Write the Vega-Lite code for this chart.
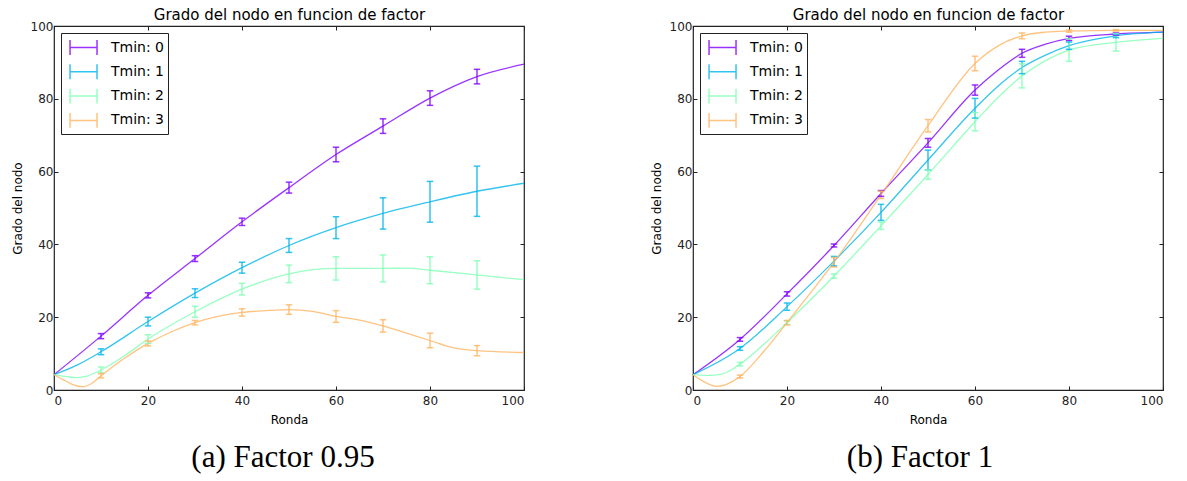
{
  "$schema": "https://vega.github.io/schema/vega-lite/v6.json",
  "padding": {"left": 10, "top": 6, "right": 5, "bottom": 2},
  "background": "white",
  "datasets": {
    "la": [
      {"x": 0, "y": 4.2, "s": "Tmin: 0"}, {"x": 10, "y": 14.8, "s": "Tmin: 0"}, {"x": 20, "y": 26.0, "s": "Tmin: 0"}, {"x": 30, "y": 36.1, "s": "Tmin: 0"}, {"x": 40, "y": 46.2, "s": "Tmin: 0"}, {"x": 50, "y": 55.6, "s": "Tmin: 0"}, {"x": 60, "y": 64.7, "s": "Tmin: 0"}, {"x": 70, "y": 72.5, "s": "Tmin: 0"}, {"x": 80, "y": 80.2, "s": "Tmin: 0"}, {"x": 90, "y": 86.1, "s": "Tmin: 0"}, {"x": 100, "y": 89.5, "s": "Tmin: 0"},
      {"x": 0, "y": 4.2, "s": "Tmin: 1"}, {"x": 5, "y": 6.9, "s": "Tmin: 1"}, {"x": 10, "y": 10.5, "s": "Tmin: 1"}, {"x": 20, "y": 18.8, "s": "Tmin: 1"}, {"x": 30, "y": 26.6, "s": "Tmin: 1"}, {"x": 40, "y": 33.6, "s": "Tmin: 1"}, {"x": 50, "y": 39.7, "s": "Tmin: 1"}, {"x": 60, "y": 44.6, "s": "Tmin: 1"}, {"x": 70, "y": 48.5, "s": "Tmin: 1"}, {"x": 80, "y": 51.7, "s": "Tmin: 1"}, {"x": 90, "y": 54.6, "s": "Tmin: 1"}, {"x": 100, "y": 56.8, "s": "Tmin: 1"},
      {"x": 0, "y": 4.2, "s": "Tmin: 2"}, {"x": 3, "y": 3.6, "s": "Tmin: 2"}, {"x": 5, "y": 3.4, "s": "Tmin: 2"}, {"x": 7, "y": 3.8, "s": "Tmin: 2"}, {"x": 10, "y": 5.5, "s": "Tmin: 2"}, {"x": 15, "y": 9.4, "s": "Tmin: 2"}, {"x": 20, "y": 14.0, "s": "Tmin: 2"}, {"x": 30, "y": 21.5, "s": "Tmin: 2"}, {"x": 40, "y": 27.7, "s": "Tmin: 2"}, {"x": 50, "y": 31.9, "s": "Tmin: 2"}, {"x": 60, "y": 33.4, "s": "Tmin: 2"}, {"x": 70, "y": 33.4, "s": "Tmin: 2"}, {"x": 75, "y": 33.5, "s": "Tmin: 2"}, {"x": 80, "y": 32.9, "s": "Tmin: 2"}, {"x": 90, "y": 31.6, "s": "Tmin: 2"}, {"x": 100, "y": 30.3, "s": "Tmin: 2"},
      {"x": 0, "y": 4.2, "s": "Tmin: 3"}, {"x": 2, "y": 2.8, "s": "Tmin: 3"}, {"x": 4, "y": 1.5, "s": "Tmin: 3"}, {"x": 6, "y": 0.9, "s": "Tmin: 3"}, {"x": 8, "y": 1.8, "s": "Tmin: 3"}, {"x": 10, "y": 3.9, "s": "Tmin: 3"}, {"x": 15, "y": 8.7, "s": "Tmin: 3"}, {"x": 20, "y": 12.8, "s": "Tmin: 3"}, {"x": 25, "y": 16.0, "s": "Tmin: 3"}, {"x": 30, "y": 18.5, "s": "Tmin: 3"}, {"x": 40, "y": 21.3, "s": "Tmin: 3"}, {"x": 45, "y": 21.8, "s": "Tmin: 3"}, {"x": 50, "y": 22.1, "s": "Tmin: 3"}, {"x": 55, "y": 21.6, "s": "Tmin: 3"}, {"x": 60, "y": 20.2, "s": "Tmin: 3"}, {"x": 65, "y": 19.2, "s": "Tmin: 3"}, {"x": 70, "y": 17.6, "s": "Tmin: 3"}, {"x": 75, "y": 15.6, "s": "Tmin: 3"}, {"x": 80, "y": 13.6, "s": "Tmin: 3"}, {"x": 85, "y": 11.6, "s": "Tmin: 3"}, {"x": 90, "y": 10.8, "s": "Tmin: 3"}, {"x": 100, "y": 10.3, "s": "Tmin: 3"}
    ],
    "ea": [
      {"x": 10, "lo": 14.1, "hi": 15.5, "s": "Tmin: 0"}, {"x": 20, "lo": 25.3, "hi": 26.7, "s": "Tmin: 0"}, {"x": 30, "lo": 35.3, "hi": 36.9, "s": "Tmin: 0"}, {"x": 40, "lo": 45.2, "hi": 47.2, "s": "Tmin: 0"}, {"x": 50, "lo": 54.1, "hi": 57.1, "s": "Tmin: 0"}, {"x": 60, "lo": 62.7, "hi": 66.7, "s": "Tmin: 0"}, {"x": 70, "lo": 70.5, "hi": 74.5, "s": "Tmin: 0"}, {"x": 80, "lo": 78.2, "hi": 82.2, "s": "Tmin: 0"}, {"x": 90, "lo": 84.1, "hi": 88.1, "s": "Tmin: 0"},
      {"x": 10, "lo": 9.7, "hi": 11.3, "s": "Tmin: 1"}, {"x": 20, "lo": 17.6, "hi": 20.0, "s": "Tmin: 1"}, {"x": 30, "lo": 25.4, "hi": 27.8, "s": "Tmin: 1"}, {"x": 40, "lo": 32.1, "hi": 35.1, "s": "Tmin: 1"}, {"x": 50, "lo": 37.8, "hi": 41.6, "s": "Tmin: 1"}, {"x": 60, "lo": 41.6, "hi": 47.6, "s": "Tmin: 1"}, {"x": 70, "lo": 44.2, "hi": 52.8, "s": "Tmin: 1"}, {"x": 80, "lo": 46.1, "hi": 57.3, "s": "Tmin: 1"}, {"x": 90, "lo": 47.7, "hi": 61.5, "s": "Tmin: 1"},
      {"x": 10, "lo": 4.7, "hi": 6.3, "s": "Tmin: 2"}, {"x": 20, "lo": 12.8, "hi": 15.2, "s": "Tmin: 2"}, {"x": 30, "lo": 20.0, "hi": 23.0, "s": "Tmin: 2"}, {"x": 40, "lo": 26.1, "hi": 29.3, "s": "Tmin: 2"}, {"x": 50, "lo": 29.5, "hi": 34.3, "s": "Tmin: 2"}, {"x": 60, "lo": 30.2, "hi": 36.6, "s": "Tmin: 2"}, {"x": 70, "lo": 29.7, "hi": 37.1, "s": "Tmin: 2"}, {"x": 80, "lo": 29.2, "hi": 36.6, "s": "Tmin: 2"}, {"x": 90, "lo": 27.7, "hi": 35.5, "s": "Tmin: 2"},
      {"x": 10, "lo": 3.3, "hi": 4.5, "s": "Tmin: 3"}, {"x": 20, "lo": 12.1, "hi": 13.5, "s": "Tmin: 3"}, {"x": 30, "lo": 17.9, "hi": 19.1, "s": "Tmin: 3"}, {"x": 40, "lo": 20.3, "hi": 22.3, "s": "Tmin: 3"}, {"x": 50, "lo": 20.8, "hi": 23.4, "s": "Tmin: 3"}, {"x": 60, "lo": 18.6, "hi": 21.8, "s": "Tmin: 3"}, {"x": 70, "lo": 15.9, "hi": 19.3, "s": "Tmin: 3"}, {"x": 80, "lo": 11.6, "hi": 15.6, "s": "Tmin: 3"}, {"x": 90, "lo": 9.4, "hi": 12.2, "s": "Tmin: 3"}
    ],
    "lb": [
      {"x": 0, "y": 4.2, "s": "Tmin: 0"}, {"x": 10, "y": 13.9, "s": "Tmin: 0"}, {"x": 20, "y": 26.4, "s": "Tmin: 0"}, {"x": 30, "y": 39.7, "s": "Tmin: 0"}, {"x": 40, "y": 54.0, "s": "Tmin: 0"}, {"x": 50, "y": 67.9, "s": "Tmin: 0"}, {"x": 60, "y": 82.4, "s": "Tmin: 0"}, {"x": 65, "y": 88.0, "s": "Tmin: 0"}, {"x": 70, "y": 92.5, "s": "Tmin: 0"}, {"x": 75, "y": 95.0, "s": "Tmin: 0"}, {"x": 80, "y": 96.6, "s": "Tmin: 0"}, {"x": 90, "y": 97.8, "s": "Tmin: 0"}, {"x": 100, "y": 98.3, "s": "Tmin: 0"},
      {"x": 0, "y": 4.2, "s": "Tmin: 1"}, {"x": 10, "y": 11.4, "s": "Tmin: 1"}, {"x": 20, "y": 22.9, "s": "Tmin: 1"}, {"x": 30, "y": 35.4, "s": "Tmin: 1"}, {"x": 40, "y": 48.8, "s": "Tmin: 1"}, {"x": 50, "y": 63.2, "s": "Tmin: 1"}, {"x": 60, "y": 77.4, "s": "Tmin: 1"}, {"x": 65, "y": 83.6, "s": "Tmin: 1"}, {"x": 70, "y": 88.6, "s": "Tmin: 1"}, {"x": 75, "y": 92.0, "s": "Tmin: 1"}, {"x": 80, "y": 94.6, "s": "Tmin: 1"}, {"x": 90, "y": 97.3, "s": "Tmin: 1"}, {"x": 100, "y": 98.3, "s": "Tmin: 1"},
      {"x": 0, "y": 4.2, "s": "Tmin: 2"}, {"x": 3, "y": 4.0, "s": "Tmin: 2"}, {"x": 6, "y": 4.3, "s": "Tmin: 2"}, {"x": 10, "y": 7.1, "s": "Tmin: 2"}, {"x": 15, "y": 12.5, "s": "Tmin: 2"}, {"x": 20, "y": 18.5, "s": "Tmin: 2"}, {"x": 30, "y": 31.3, "s": "Tmin: 2"}, {"x": 40, "y": 45.1, "s": "Tmin: 2"}, {"x": 50, "y": 59.2, "s": "Tmin: 2"}, {"x": 60, "y": 73.7, "s": "Tmin: 2"}, {"x": 65, "y": 80.5, "s": "Tmin: 2"}, {"x": 70, "y": 86.3, "s": "Tmin: 2"}, {"x": 75, "y": 90.5, "s": "Tmin: 2"}, {"x": 80, "y": 93.4, "s": "Tmin: 2"}, {"x": 90, "y": 95.5, "s": "Tmin: 2"}, {"x": 100, "y": 96.6, "s": "Tmin: 2"},
      {"x": 0, "y": 4.2, "s": "Tmin: 3"}, {"x": 2, "y": 2.5, "s": "Tmin: 3"}, {"x": 5, "y": 1.0, "s": "Tmin: 3"}, {"x": 7, "y": 1.5, "s": "Tmin: 3"}, {"x": 10, "y": 3.7, "s": "Tmin: 3"}, {"x": 15, "y": 10.5, "s": "Tmin: 3"}, {"x": 20, "y": 18.5, "s": "Tmin: 3"}, {"x": 30, "y": 35.1, "s": "Tmin: 3"}, {"x": 40, "y": 53.6, "s": "Tmin: 3"}, {"x": 50, "y": 72.6, "s": "Tmin: 3"}, {"x": 60, "y": 89.7, "s": "Tmin: 3"}, {"x": 65, "y": 94.6, "s": "Tmin: 3"}, {"x": 70, "y": 97.3, "s": "Tmin: 3"}, {"x": 75, "y": 98.3, "s": "Tmin: 3"}, {"x": 80, "y": 98.6, "s": "Tmin: 3"}, {"x": 90, "y": 98.8, "s": "Tmin: 3"}, {"x": 100, "y": 98.8, "s": "Tmin: 3"}
    ],
    "eb": [
      {"x": 10, "lo": 13.4, "hi": 14.4, "s": "Tmin: 0"}, {"x": 20, "lo": 25.8, "hi": 27.0, "s": "Tmin: 0"}, {"x": 30, "lo": 39.3, "hi": 40.1, "s": "Tmin: 0"}, {"x": 40, "lo": 53.2, "hi": 54.8, "s": "Tmin: 0"}, {"x": 50, "lo": 66.7, "hi": 69.1, "s": "Tmin: 0"}, {"x": 60, "lo": 81.0, "hi": 83.8, "s": "Tmin: 0"}, {"x": 70, "lo": 91.4, "hi": 93.6, "s": "Tmin: 0"}, {"x": 80, "lo": 96.0, "hi": 97.2, "s": "Tmin: 0"}, {"x": 90, "lo": 97.5, "hi": 98.1, "s": "Tmin: 0"},
      {"x": 10, "lo": 10.9, "hi": 11.9, "s": "Tmin: 1"}, {"x": 20, "lo": 21.9, "hi": 23.9, "s": "Tmin: 1"}, {"x": 30, "lo": 34.1, "hi": 36.7, "s": "Tmin: 1"}, {"x": 40, "lo": 46.6, "hi": 51.0, "s": "Tmin: 1"}, {"x": 50, "lo": 60.5, "hi": 65.9, "s": "Tmin: 1"}, {"x": 60, "lo": 74.7, "hi": 80.1, "s": "Tmin: 1"}, {"x": 70, "lo": 86.9, "hi": 90.3, "s": "Tmin: 1"}, {"x": 80, "lo": 93.6, "hi": 95.6, "s": "Tmin: 1"}, {"x": 90, "lo": 96.8, "hi": 97.8, "s": "Tmin: 1"},
      {"x": 10, "lo": 6.6, "hi": 7.6, "s": "Tmin: 2"}, {"x": 20, "lo": 18.0, "hi": 19.0, "s": "Tmin: 2"}, {"x": 30, "lo": 30.7, "hi": 31.9, "s": "Tmin: 2"}, {"x": 40, "lo": 44.1, "hi": 46.1, "s": "Tmin: 2"}, {"x": 50, "lo": 57.9, "hi": 60.5, "s": "Tmin: 2"}, {"x": 60, "lo": 71.2, "hi": 76.2, "s": "Tmin: 2"}, {"x": 70, "lo": 83.0, "hi": 89.6, "s": "Tmin: 2"}, {"x": 80, "lo": 90.3, "hi": 96.5, "s": "Tmin: 2"}, {"x": 90, "lo": 93.1, "hi": 97.9, "s": "Tmin: 2"},
      {"x": 10, "lo": 3.3, "hi": 4.1, "s": "Tmin: 3"}, {"x": 20, "lo": 17.9, "hi": 19.1, "s": "Tmin: 3"}, {"x": 30, "lo": 33.8, "hi": 36.4, "s": "Tmin: 3"}, {"x": 40, "lo": 52.6, "hi": 54.6, "s": "Tmin: 3"}, {"x": 50, "lo": 70.9, "hi": 74.3, "s": "Tmin: 3"}, {"x": 60, "lo": 87.7, "hi": 91.7, "s": "Tmin: 3"}, {"x": 70, "lo": 96.5, "hi": 98.1, "s": "Tmin: 3"}, {"x": 80, "lo": 98.3, "hi": 98.9, "s": "Tmin: 3"}, {"x": 90, "lo": 98.6, "hi": 99.0, "s": "Tmin: 3"}
    ]
  },
  "hconcat": [
    {
      "title": {"text": "(a) Factor 0.95", "dx": -6},
      "width": 470,
      "height": 364,
      "layer": [
        {
          "layer": [
            {"data": {"name": "la"}, "mark": {"type": "line", "interpolate": "monotone", "strokeWidth": 1.3, "opacity": 0.8},
             "encoding": {
               "x": {"field": "x", "type": "quantitative", "scale": {"domain": [0, 100], "nice": false}, "axis": {"values": [0, 20, 40, 60, 80, 100], "title": "Ronda", "labelPadding": 9, "titlePadding": 8}},
               "y": {"field": "y", "type": "quantitative", "scale": {"domain": [0, 100], "nice": false}, "axis": {"values": [0, 20, 40, 60, 80, 100], "title": "Grado del nodo"}},
               "color": {"field": "s", "type": "nominal", "scale": {"domain": ["Tmin: 0", "Tmin: 1", "Tmin: 2", "Tmin: 3"], "range": ["#8000ff", "#00b5eb", "#80ffb4", "#ffb462"]}, "legend": {"title": null}}
             }},
            {"data": {"name": "ea"}, "mark": {"type": "rule", "strokeWidth": 1.5, "opacity": 0.8},
             "encoding": {"x": {"field": "x", "type": "quantitative"}, "y": {"field": "lo", "type": "quantitative"}, "y2": {"field": "hi"}, "color": {"field": "s", "type": "nominal"}}},
            {"data": {"name": "ea"}, "mark": {"type": "tick", "orient": "horizontal", "size": 6.5, "thickness": 1.5, "opacity": 0.8},
             "encoding": {"x": {"field": "x", "type": "quantitative"}, "y": {"field": "lo", "type": "quantitative"}, "color": {"field": "s", "type": "nominal"}}},
            {"data": {"name": "ea"}, "mark": {"type": "tick", "orient": "horizontal", "size": 6.5, "thickness": 1.5, "opacity": 0.8},
             "encoding": {"x": {"field": "x", "type": "quantitative"}, "y": {"field": "hi", "type": "quantitative"}, "color": {"field": "s", "type": "nominal"}}}
          ]
        },
        {
          "data": {"name": "la"}, "mark": {"type": "point", "opacity": 0},
          "encoding": {
            "x": {"field": "x", "type": "quantitative", "axis": {"orient": "top", "values": [0, 20, 40, 60, 80, 100], "labels": false, "title": "Grado del nodo en funcion de factor", "titleFontSize": 15, "titlePadding": 3}},
            "y": {"field": "y", "type": "quantitative", "axis": {"orient": "right", "values": [0, 20, 40, 60, 80, 100], "labels": false, "title": null}}
          }
        }
      ],
      "resolve": {"axis": {"x": "independent", "y": "independent"}}
    },
    {
      "title": {"text": "(b) Factor 1", "dx": -8},
      "width": 470,
      "height": 364,
      "layer": [
        {
          "layer": [
            {"data": {"name": "lb"}, "mark": {"type": "line", "interpolate": "monotone", "strokeWidth": 1.3, "opacity": 0.8},
             "encoding": {
               "x": {"field": "x", "type": "quantitative", "scale": {"domain": [0, 100], "nice": false}, "axis": {"values": [0, 20, 40, 60, 80, 100], "title": "Ronda", "labelPadding": 9, "titlePadding": 8}},
               "y": {"field": "y", "type": "quantitative", "scale": {"domain": [0, 100], "nice": false}, "axis": {"values": [0, 20, 40, 60, 80, 100], "title": "Grado del nodo"}},
               "color": {"field": "s", "type": "nominal", "scale": {"domain": ["Tmin: 0", "Tmin: 1", "Tmin: 2", "Tmin: 3"], "range": ["#8000ff", "#00b5eb", "#80ffb4", "#ffb462"]}, "legend": {"title": null}}
             }},
            {"data": {"name": "eb"}, "mark": {"type": "rule", "strokeWidth": 1.5, "opacity": 0.8},
             "encoding": {"x": {"field": "x", "type": "quantitative"}, "y": {"field": "lo", "type": "quantitative"}, "y2": {"field": "hi"}, "color": {"field": "s", "type": "nominal"}}},
            {"data": {"name": "eb"}, "mark": {"type": "tick", "orient": "horizontal", "size": 6.5, "thickness": 1.5, "opacity": 0.8},
             "encoding": {"x": {"field": "x", "type": "quantitative"}, "y": {"field": "lo", "type": "quantitative"}, "color": {"field": "s", "type": "nominal"}}},
            {"data": {"name": "eb"}, "mark": {"type": "tick", "orient": "horizontal", "size": 6.5, "thickness": 1.5, "opacity": 0.8},
             "encoding": {"x": {"field": "x", "type": "quantitative"}, "y": {"field": "hi", "type": "quantitative"}, "color": {"field": "s", "type": "nominal"}}}
          ]
        },
        {
          "data": {"name": "lb"}, "mark": {"type": "point", "opacity": 0},
          "encoding": {
            "x": {"field": "x", "type": "quantitative", "axis": {"orient": "top", "values": [0, 20, 40, 60, 80, 100], "labels": false, "title": "Grado del nodo en funcion de factor", "titleFontSize": 15, "titlePadding": 3}},
            "y": {"field": "y", "type": "quantitative", "axis": {"orient": "right", "values": [0, 20, 40, 60, 80, 100], "labels": false, "title": null}}
          }
        }
      ],
      "resolve": {"axis": {"x": "independent", "y": "independent"}}
    }
  ],
  "spacing": 121,
  "resolve": {"scale": {"color": "independent"}, "legend": {"color": "independent"}},
  "config": {
    "font": "DejaVu Sans",
    "view": {"stroke": "#222222", "strokeWidth": 1.2},
    "axis": {"domain": false, "grid": false, "tickColor": "#222222", "tickSize": -4, "tickWidth": 1, "labelPadding": 5, "labelFontSize": 12, "labelColor": "#222222", "labelFont": "DejaVu Sans", "titleFontSize": 12, "titleFont": "DejaVu Sans", "titleFontWeight": "normal", "titleColor": "black", "titlePadding": 6},
    "title": {"orient": "bottom", "font": "Liberation Serif", "fontSize": 31, "fontWeight": "normal", "color": "black", "offset": 18, "anchor": "middle", "frame": "group"},
    "legend": {
      "orient": "top-left", "offset": 7, "fillColor": "white", "strokeColor": "#222222", "padding": 3,
      "symbolType": "M-0.52,0H2.05M-0.52,-0.71V0.71M2.05,-0.71V0.71", "symbolSize": 441, "symbolStrokeWidth": 1.5, "symbolOpacity": 0.8,
      "labelFontSize": 14, "labelColor": "black", "labelFont": "DejaVu Sans", "labelOffset": 24, "rowPadding": 2.3, "cornerRadius": 0
    }
  }
}
